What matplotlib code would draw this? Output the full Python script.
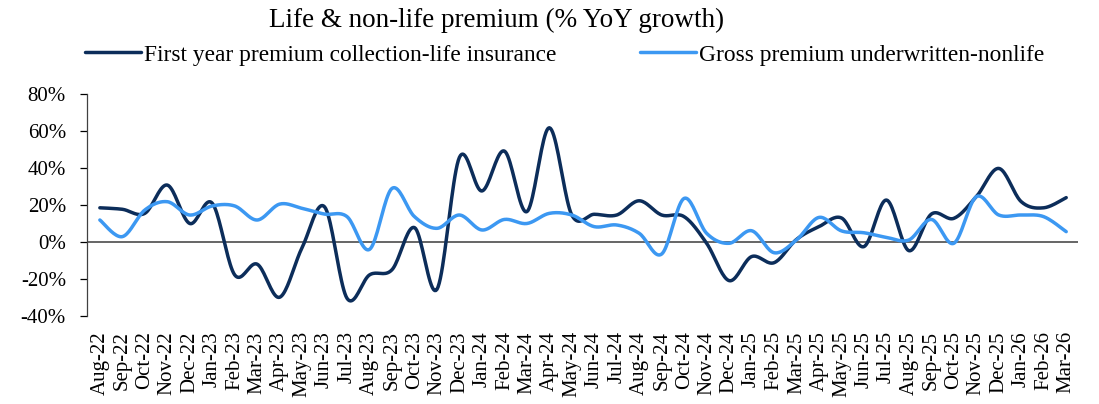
import numpy as np
import matplotlib
matplotlib.use("Agg")
import matplotlib.pyplot as plt

months = ["Aug-22", "Sep-22", "Oct-22", "Nov-22", "Dec-22", "Jan-23", "Feb-23", "Mar-23",
          "Apr-23", "May-23", "Jun-23", "Jul-23", "Aug-23", "Sep-23", "Oct-23", "Nov-23",
          "Dec-23", "Jan-24", "Feb-24", "Mar-24", "Apr-24", "May-24", "Jun-24", "Jul-24",
          "Aug-24", "Sep-24", "Oct-24", "Nov-24", "Dec-24", "Jan-25", "Feb-25", "Mar-25",
          "Apr-25", "May-25", "Jun-25", "Jul-25", "Aug-25", "Sep-25", "Oct-25", "Nov-25",
          "Dec-25", "Jan-26", "Feb-26", "Mar-26"]

life = [18.5, 17.7, 15.5, 30.8, 10.0, 21.0, -17.8, -12.0, -29.9, -3.0, 19.0, -30.5,
        -17.8, -15.0, 7.8, -25.6, 45.8, 27.6, 49.2, 16.4, 61.8, 14.6, 15.0, 14.6,
        22.3, 14.6, 13.7, -0.7, -20.9, -7.9, -11.2, 1.4, 8.3, 13.0, -2.5, 22.7,
        -4.7, 15.1, 12.8, 24.5, 39.8, 21.8, 18.5, 24.0]

nonlife = [11.9, 2.9, 17.3, 21.8, 14.6, 19.5, 19.5, 11.9, 20.5, 18.2, 15.1, 13.7,
           -4.0, 29.0, 13.7, 7.4, 14.6, 6.5, 12.2, 10.0, 15.5, 14.6, 8.3, 9.2,
           4.7, -6.5, 23.6, 4.7, -0.7, 6.1, -5.8, 1.1, 13.3, 6.0, 5.0, 2.5,
           1.1, 12.2, -0.7, 24.5, 14.6, 14.6, 13.7, 5.6]


def smooth(x, y, n=20):
    # Catmull-Rom style curve through the points, like Excel's smoothed line
    x = np.asarray(x, float)
    y = np.asarray(y, float)
    px = np.concatenate([[x[0]], x, [x[-1]]])
    py = np.concatenate([[y[0]], y, [y[-1]]])
    xs, ys = [], []
    t = np.linspace(0, 1, n, endpoint=False)
    for i in range(1, len(px) - 2):
        p0x, p1x, p2x, p3x = px[i - 1], px[i], px[i + 1], px[i + 2]
        p0y, p1y, p2y, p3y = py[i - 1], py[i], py[i + 1], py[i + 2]
        c1x, c1y = p1x + (p2x - p0x) / 6, p1y + (p2y - p0y) / 6
        c2x, c2y = p2x - (p3x - p1x) / 6, p2y - (p3y - p1y) / 6
        b0, b1, b2, b3 = (1 - t) ** 3, 3 * t * (1 - t) ** 2, 3 * t ** 2 * (1 - t), t ** 3
        xs.append(b0 * p1x + b1 * c1x + b2 * c2x + b3 * p2x)
        ys.append(b0 * p1y + b1 * c1y + b2 * c2y + b3 * p2y)
    xs.append([x[-1]])
    ys.append([y[-1]])
    return np.concatenate(xs), np.concatenate(ys)


plt.rcParams['font.family'] = ['Liberation Serif', 'DejaVu Serif']

fig = plt.figure(figsize=(10.99, 4.04), dpi=100)
ax = fig.add_axes([0.079, 0.218, 0.902, 0.549])

xi = np.arange(len(months))
dark = "#0c2d5a"
light = "#3c98f2"

sx, sy = smooth(xi, life)
ax.plot(sx, sy, color=dark, lw=2.5, label="First year premium collection-life insurance",
        solid_capstyle="round", zorder=3)
sx, sy = smooth(xi, nonlife)
ax.plot(sx, sy, color=light, lw=2.5, label="Gross premium underwritten-nonlife",
        solid_capstyle="round", zorder=3)

ax.axhline(0, color="#595959", lw=1.3, zorder=2)

ax.set_xlim(-0.58, len(months) - 1 + 0.53)
ax.set_ylim(-40, 80)
ax.set_yticks(np.arange(-40, 81, 20))
ax.set_yticklabels([f"{v}%" for v in range(-40, 81, 20)], fontsize=15)
ax.set_xticks(xi)
ax.set_xticklabels(months, rotation=90, fontsize=15)
ax.tick_params(axis="x", length=0, pad=11)
ax.tick_params(axis="y", length=5, width=0.9, direction="out", pad=10)

for s in ["top", "right", "bottom"]:
    ax.spines[s].set_visible(False)
ax.spines["left"].set_color("#404040")
ax.spines["left"].set_linewidth(0.9)

fig.text(0.452, 0.95, "Life & non-life premium (% YoY growth)", ha="center", va="center",
         fontsize=19.5)
fig.legend(loc="center left", bbox_to_anchor=(85 / 1099, 0.864), ncol=2, frameon=False,
           fontsize=16.8, handlelength=2.4, handletextpad=0.12, columnspacing=3.6,
           borderpad=0, borderaxespad=0)

fig.savefig("out.png", dpi=100)
